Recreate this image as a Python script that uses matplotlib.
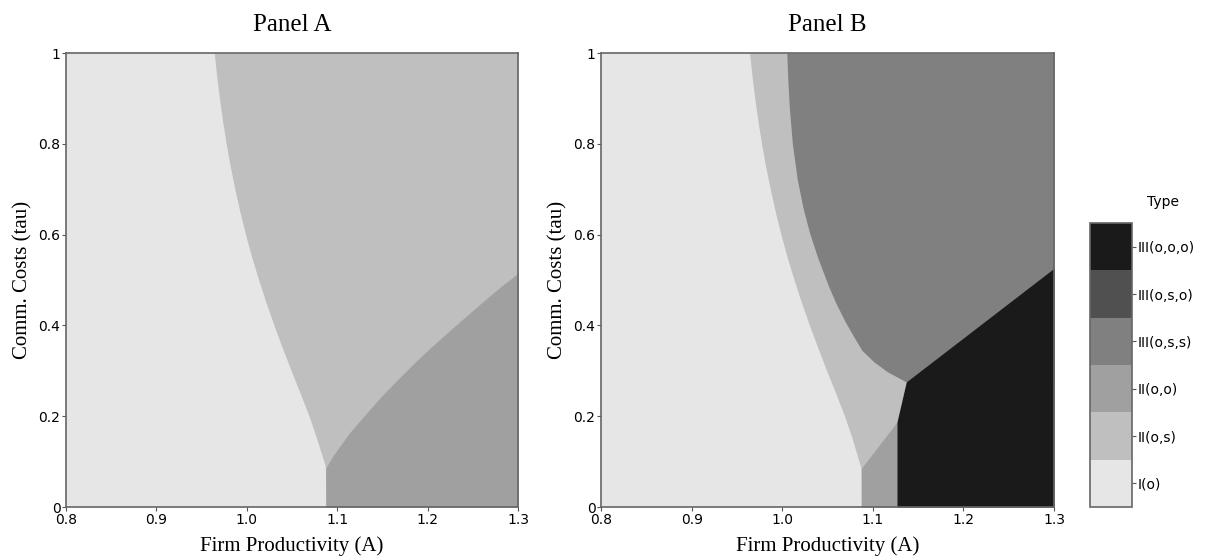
import numpy as np
import matplotlib
matplotlib.use("Agg")
import matplotlib.pyplot as plt
from matplotlib.colors import ListedColormap, BoundaryNorm
from matplotlib.cm import ScalarMappable

# regime types and their grey levels
types = ["I(o)", "II(o,s)", "II(o,o)", "III(o,s,s)", "III(o,s,o)", "III(o,o,o)"]
greys = ["#e6e6e6", "#bfbfbf", "#a0a0a0", "#808080", "#505050", "#1a1a1a"]

A_MIN, A_MAX = 0.8, 1.3

tau_a_os = [0.0, 0.0896, 0.15, 0.2, 0.25, 0.3, 0.35, 0.4, 0.45, 0.5, 0.55,
            0.6, 0.65, 0.7, 0.75, 0.8, 0.85, 0.9, 0.95, 1.0]
A_a_os = [1.0873, 1.0869, 1.0774, 1.0689, 1.0591, 1.0491, 1.0394, 1.0301,
          1.0213, 1.0131, 1.0055, 0.9986, 0.9924, 0.9868, 0.9817, 0.9772,
          0.9732, 0.9697, 0.9666, 0.9640]

tau_a_oo = [0.0, 0.086, 0.112, 0.163, 0.206, 0.247, 0.285, 0.321, 0.356,
            0.388, 0.421, 0.452, 0.484, 0.515]
A_a_oo = [1.0873, 1.0873, 1.095, 1.1134, 1.132, 1.1503, 1.169, 1.1872,
          1.206, 1.224, 1.243, 1.2609, 1.280, 1.300]

# Panel B boundaries
tau_b_os = [0.0, 0.085, 0.15, 0.2, 0.25, 0.3, 0.35, 0.4, 0.45, 0.5, 0.55,
            0.6, 0.65, 0.7, 0.75, 0.8, 0.85, 0.9, 0.95, 1.0]
A_b_os = [1.0872, 1.0870, 1.0774, 1.0689, 1.0591, 1.0491, 1.0394, 1.0301,
          1.0213, 1.0131, 1.0055, 0.9986, 0.9924, 0.9868, 0.9817, 0.9772,
          0.9732, 0.9697, 0.9666, 0.9640]

tau_b_oo = [0.0, 0.085, 0.187]
A_b_oo = [1.0872, 1.0872, 1.1266]

tau_b_oss = [0.2756, 0.298, 0.32, 0.345, 0.375, 0.408, 0.45, 0.487, 0.55,
             0.605, 0.66, 0.723, 0.8, 0.88, 0.94, 1.0]
A_b_oss = [1.1369, 1.1160, 1.1010, 1.0880, 1.0790, 1.0695, 1.0590, 1.0510,
           1.0390, 1.0300, 1.0228, 1.0165, 1.0112, 1.0078, 1.0062, 1.0050]

tau_b_ooo = [0.0, 0.187, 0.2756, 0.526]
A_b_ooo = [1.1266, 1.1266, 1.1369, 1.300]

serif = ["Liberation Serif", "DejaVu Serif"]

fig = plt.figure(figsize=(12.11, 5.6), dpi=100)
axA = fig.add_axes([0.0545, 0.0946, 0.3733, 0.8107])
axB = fig.add_axes([0.4963, 0.0946, 0.3741, 0.8107])
cax = fig.add_axes([0.9001, 0.0946, 0.0347, 0.507])


def region(ax, tau, A, color):
    ax.fill_betweenx(tau, A, A_MAX, color=color, lw=0)


def fill_all(ax):
    ax.fill_betweenx([0, 1], A_MIN, A_MAX, color=greys[0], lw=0)


fill_all(axA)
region(axA, tau_a_os, A_a_os, greys[1])
region(axA, tau_a_oo, A_a_oo, greys[2])

fill_all(axB)
region(axB, tau_b_os, A_b_os, greys[1])
axB.fill_betweenx(tau_b_oo, A_b_oo, A_b_ooo[0], color=greys[2], lw=0)
region(axB, tau_b_oss, A_b_oss, greys[3])
region(axB, tau_b_ooo, A_b_ooo, greys[5])

for ax, title in [(axA, "Panel A"), (axB, "Panel B")]:
    ax.set_xlim(A_MIN, A_MAX)
    ax.set_ylim(0, 1)
    ax.set_xticks([0.8, 0.9, 1.0, 1.1, 1.2, 1.3])
    ax.set_xticklabels(["0.8", "0.9", "1.0", "1.1", "1.2", "1.3"])
    ax.set_yticks([0, 0.2, 0.4, 0.6, 0.8, 1])
    ax.set_yticklabels(["0", "0.2", "0.4", "0.6", "0.8", "1"])
    ax.tick_params(labelsize=10, pad=1, color="#555555", length=3)
    for s in ax.spines.values():
        s.set_color("#666666")
        s.set_linewidth(1.2)
    ax.set_title(title, family=serif, fontsize=18, pad=16)
    ax.set_xlabel("Firm Productivity (A)", family=serif, fontsize=15, labelpad=7)
    ax.set_ylabel("Comm. Costs (tau)", family=serif, fontsize=15, labelpad=4)

cmap = ListedColormap(greys)
norm = BoundaryNorm(np.arange(len(types) + 1), cmap.N)
cb = fig.colorbar(ScalarMappable(norm=norm, cmap=cmap), cax=cax)
cb.set_ticks(np.arange(len(types)) + 0.5)
cb.set_ticklabels(types)
cb.ax.minorticks_off()
cb.ax.tick_params(labelsize=10, length=3, pad=1, color="#555555")
cb.outline.set_edgecolor("#666666")
cb.outline.set_linewidth(1.2)
cax.set_title("Type", fontsize=10, x=1.74, pad=12)

fig.savefig("out.png", dpi=100)
